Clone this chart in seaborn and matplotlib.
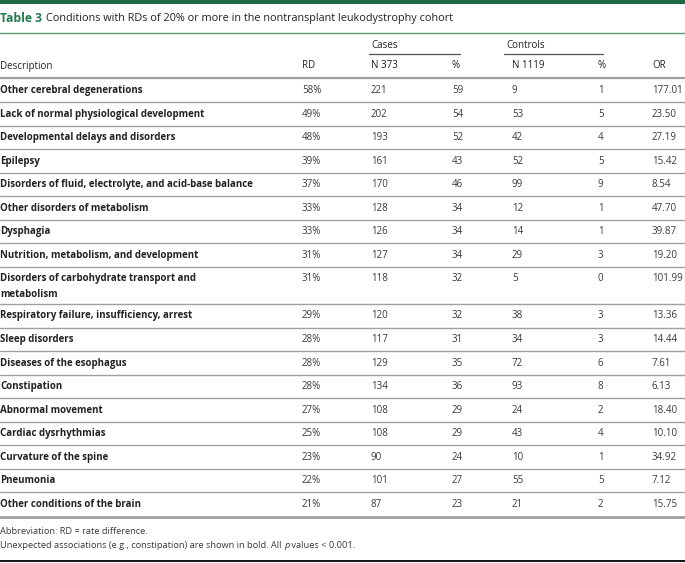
import matplotlib
matplotlib.use("Agg")
import matplotlib.pyplot as plt
import seaborn as sns

# table content
descriptions = [
    "Other cerebral degenerations",
    "Lack of normal physiological development",
    "Developmental delays and disorders",
    "Epilepsy",
    "Disorders of fluid, electrolyte, and acid-base balance",
    "Other disorders of metabolism",
    "Dysphagia",
    "Nutrition, metabolism, and development",
    "Disorders of carbohydrate transport and\nmetabolism",
    "Respiratory failure, insufficiency, arrest",
    "Sleep disorders",
    "Diseases of the esophagus",
    "Constipation",
    "Abnormal movement",
    "Cardiac dysrhythmias",
    "Curvature of the spine",
    "Pneumonia",
    "Other conditions of the brain",
]
rd = ["58%", "49%", "48%", "39%", "37%", "33%", "33%", "31%", "31%",
      "29%", "28%", "28%", "28%", "27%", "25%", "23%", "22%", "21%"]
cases_n = [221, 202, 193, 161, 170, 128, 126, 127, 118, 120, 117, 129, 134, 108, 108, 90, 101, 87]
cases_pct = [59, 54, 52, 43, 46, 34, 34, 34, 32, 32, 31, 35, 36, 29, 29, 24, 27, 23]
controls_n = [9, 53, 42, 52, 99, 12, 14, 29, 5, 38, 34, 72, 93, 24, 43, 10, 55, 21]
controls_pct = [1, 5, 4, 5, 9, 1, 1, 3, 0, 3, 3, 6, 8, 2, 4, 1, 5, 2]
odds_ratio = ["177.01", "23.50", "27.19", "15.42", "8.54", "47.70", "39.87", "19.20", "101.99",
              "13.36", "14.44", "7.61", "6.13", "18.40", "10.10", "34.92", "7.12", "15.75"]

title_label = "Table 3"
title_text = "Conditions with RDs of 20% or more in the nontransplant leukodystrophy cohort"
header_top = ["Cases", "Controls"]
header_cols = ["Description", "RD", "N 373", "%", "N 1119", "%", "OR"]
note1 = "Abbreviation: RD = rate difference."
note2 = ["Unexpected associations (e.g., constipation) are shown in bold. All ", "p", " values < 0.001."]

sns.set_theme(style="white")
plt.rcParams["font.family"] = ["Open Sans", "DejaVu Sans"]

green = "#1f7a4d"
txt = "#222222"
num = "#3a3a3a"
grey_line = "#a0a0a0"

col_x = [0, 302, 371, 452, 512, 598, 652]
fs_body = 7.0
fs_title = 7.8
fs_note = 6.7

fig = plt.figure(figsize=(6.85, 5.63), dpi=100)
ax = fig.add_axes([0, 0, 1, 1])
ax.set_xlim(0, 685)
ax.set_ylim(563, 0)
ax.axis("off")

# top bar and title
ax.axhspan(0, 4, color="#1d6a47", lw=0)
t1 = ax.text(0, 18.5, title_label, color=green, fontsize=fs_title + 0.9, fontweight="bold", va="center")
ax.annotate(title_text, xy=(1, 0.5), xycoords=t1, xytext=(3, 0), textcoords="offset points",
            va="center", ha="left", fontsize=fs_title, color=txt)
ax.plot([0, 685], [33, 33], color="#5a9e7a", lw=1.0)

# header
for label, (x0, x1) in zip(header_top, [(369, 460), (504, 603)]):
    ax.text(x0 + 2, 46, label, fontsize=fs_body, color=txt, va="center")
    ax.plot([x0, x1], [54, 54], color="#555555", lw=0.9)
for x, label in zip(col_x, header_cols):
    ax.text(x, 66, label, fontsize=fs_body, color=txt, va="center")
ax.plot([0, 685], [78, 78], color=grey_line, lw=1.6)

# body rows
pitch = 23.55
extra_line = 16
top = 78.5
for i, desc in enumerate(descriptions):
    lines = desc.split("\n")
    y = top + 12
    for k, line in enumerate(lines):
        ax.text(col_x[0], y + k * extra_line, line, fontsize=fs_body, fontweight="bold",
                color=txt, va="center")
    vals = [rd[i], cases_n[i], cases_pct[i], controls_n[i], controls_pct[i], odds_ratio[i]]
    for x, v in zip(col_x[1:], vals):
        ax.text(x, y, str(v), fontsize=fs_body, color=num, va="center")
    top += pitch + (len(lines) - 1) * 13.5
    if i < len(descriptions) - 1:
        ax.plot([0, 685], [top, top], color=grey_line, lw=1.0)
ax.plot([0, 685], [top + 1, top + 1], color=grey_line, lw=2.0)

# footnotes
ax.text(0, 531, note1, fontsize=fs_note, color=num, va="center")
n1 = ax.text(0, 546, note2[0], fontsize=fs_note, color=num, va="center")
n2 = ax.annotate(note2[1], xy=(1, 0.5), xycoords=n1, xytext=(0, 0), textcoords="offset points",
                 va="center", fontsize=fs_note, color=num, style="italic")
ax.annotate(note2[2], xy=(1, 0.5), xycoords=n2, xytext=(0, 0), textcoords="offset points",
            va="center", fontsize=fs_note, color=num)
ax.plot([0, 685], [561, 561], color="#111111", lw=1.4)

fig.savefig("out.png", dpi=100)
